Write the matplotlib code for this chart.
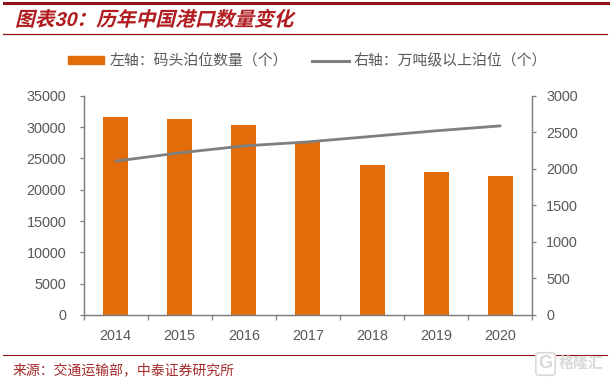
import matplotlib
matplotlib.use('Agg')
import matplotlib.pyplot as plt
from matplotlib.lines import Line2D
from matplotlib.patches import Patch, Rectangle
from matplotlib.patheffects import AbstractPathEffect
from matplotlib.transforms import Affine2D

plt.rcParams['font.family'] = ['Liberation Sans', 'Noto Sans CJK SC', 'DejaVu Sans']

years = ['2014', '2015', '2016', '2017', '2018', '2019', '2020']
berths = [31680, 31250, 30340, 27630, 23920, 22850, 22110]
big_berths = [2105, 2218, 2313, 2368, 2444, 2520, 2587]
left_ticks = [0, 5000, 10000, 15000, 20000, 25000, 30000, 35000]
right_ticks = [0, 500, 1000, 1500, 2000, 2500, 3000]

W, H = 610, 381
DARK_RED = '#8f1418'
ORANGE = '#e36c0a'
GRAY = '#7f7f7f'
TEXT = '#595959'


def px(x, y):
    return x / W, 1 - y / H


# the title in the original is slanted, no installed CJK font has an italic
class Slant(AbstractPathEffect):
    def draw_path(self, renderer, gc, tpath, affine, rgbFace=None):
        renderer.draw_path(gc, tpath, Affine2D().skew_deg(14, 0) + affine, rgbFace)


fig = plt.figure(figsize=(W / 100, H / 100), dpi=100)

# frame lines and headings
fig.add_artist(Rectangle(px(3, 5), 1, 3 / H, transform=fig.transFigure, color=DARK_RED, lw=0))
fig.add_artist(Line2D([3 / W, 1 - 3 / W], [1 - 34 / H] * 2, color=DARK_RED, lw=0.9))
fig.add_artist(Line2D([3 / W, 1 - 3 / W], [1 - 355 / H] * 2, color=DARK_RED, lw=0.8))
title = fig.text(*px(15, 20), '图表30：历年中国港口数量变化', color='#b01c20', fontsize=14.2,
                 fontweight='bold', va='center', ha='left')
title.set_path_effects([Slant()])
fig.text(*px(13, 370), '来源：交通运输部，中泰证券研究所', color='#a52a2a', fontsize=10,
         va='center', ha='left')

# main chart
ax = fig.add_axes([83.5 / W, 1 - 315 / H, (532.3 - 83.5) / W, (315 - 95.7) / H])
x = list(range(len(years)))
ax.bar(x, berths, width=0.39, color=ORANGE, zorder=2)
ax.set_xlim(-0.5, 6.5)
ax.set_ylim(0, 35000)
ax.set_yticks(left_ticks)
ax.set_xticks(x)
ax.set_xticklabels(years)
ax.set_xticks([i - 0.5 for i in range(8)], minor=True)
ax.tick_params(axis='x', which='major', length=0, pad=10, labelsize=10.4, labelcolor=TEXT)
ax.tick_params(axis='x', which='minor', length=3.5, color=GRAY, width=0.9, direction='out')
ax.tick_params(axis='y', length=3, color=GRAY, width=0.9, pad=9.5, labelsize=10.4, labelcolor=TEXT)

ax2 = ax.twinx()
ax2.plot(x, big_berths, color=GRAY, lw=2.0, solid_capstyle='round', zorder=3)
ax2.set_ylim(0, 3000)
ax2.set_yticks(right_ticks)
ax2.tick_params(axis='y', length=3, color=GRAY, width=0.9, pad=7, labelsize=10.4, labelcolor=TEXT)

for a in (ax, ax2):
    a.spines['top'].set_visible(False)
    for s in ('left', 'right', 'bottom'):
        a.spines[s].set_color(GRAY)
        a.spines[s].set_linewidth(0.9)

handles = [Patch(color=ORANGE), Line2D([], [], color=GRAY, lw=2.2)]
labels = ['左轴：码头泊位数量（个）', '右轴：万吨级以上泊位（个）']
fig.legend(handles, labels, ncol=2, frameon=False, prop={'size': 10.7},
           labelcolor=TEXT, loc='center left', bbox_to_anchor=px(68, 61),
           borderpad=0, borderaxespad=0, handlelength=2.45, handleheight=0.5,
           handletextpad=0.35, columnspacing=1.63)

# watermark
fig.text(*px(545.5, 364), 'G', color='#d9d9d9', fontsize=13, fontweight='bold', ha='center', va='center',
         bbox=dict(boxstyle='round,pad=0.15', fc='white', ec='#d9d9d9', lw=1.2))
fig.text(*px(559, 364), '格隆汇', color='#d9d9d9', fontsize=10.8, fontweight='bold', ha='left', va='center')

fig.savefig('out.png', dpi=100)
